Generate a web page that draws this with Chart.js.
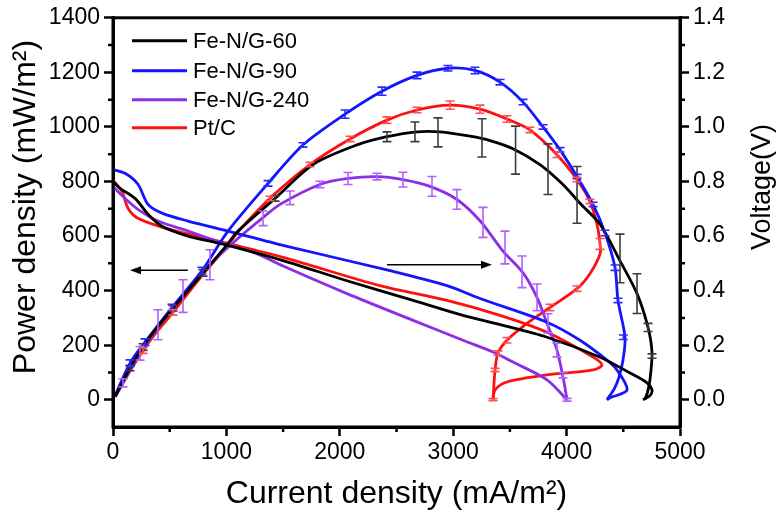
<!DOCTYPE html>
<html>
<head>
<meta charset="utf-8">
<script src="https://cdn.jsdelivr.net/npm/chart.js@4.4.1/dist/chart.umd.min.js"></script>
<style>
  html, body { margin: 0; padding: 0; background: #fff; }
  #wrap { width: 782px; height: 513px; }
</style>
</head>
<body>
<div id="wrap"><canvas id="c" width="782" height="513"></canvas></div>
<script>
// series names / colours
const names = ['Fe-N/G-60', 'Fe-N/G-90', 'Fe-N/G-240', 'Pt/C'];
const colors = ['#000000', '#1414ff', '#8c2ee6', '#ff1010'];
const errColors = ['#3c3c3c', '#2a2aff', '#b060ff', '#ff5050'];

// axis ticks
const xTicks = [0, 1000, 2000, 3000, 4000, 5000];
const xMinor = [500, 1500, 2500, 3500, 4500];
const powerTicks = [0, 200, 400, 600, 800, 1000, 1200, 1400];
const powerMinor = [100, 300, 500, 700, 900, 1100, 1300];
const voltTicks = [0, 0.2, 0.4, 0.6, 0.8, 1.0, 1.2, 1.4];
const voltMinor = [0.1, 0.3, 0.5, 0.7, 0.9, 1.1, 1.3];

// Fe-N/G-60 (black)
const blackPowX = [20, 150, 265, 370, 529, 794, 1000, 1102, 1429, 1764, 2152, 2416, 2681, 2884, 3148, 3325, 3527, 3765, 3968, 4118, 4295, 4471, 4621, 4718, 4753, 4735, 4715, 4690];
const blackPowY = [12, 116, 193, 255, 335, 465, 565, 618, 738, 862, 934, 964, 982, 982, 966, 950, 920, 862, 789, 720, 643, 509, 389, 265, 171, 73, 30, 0];
const blackVolX = [0, 62, 194, 309, 432, 661, 961, 1500, 2063, 2646, 3086, 3413, 3827, 4295, 4559, 4709, 4753, 4735, 4674];
const blackVolY = [0.80, 0.775, 0.738, 0.68, 0.636, 0.60, 0.571, 0.51, 0.436, 0.364, 0.309, 0.275, 0.229, 0.156, 0.098, 0.062, 0.036, 0.015, 0.0];

// Fe-N/G-90 (blue)
const bluePowX = [18, 150, 282, 520, 785, 1014, 1367, 1675, 2046, 2372, 2681, 2954, 3192, 3413, 3616, 3792, 3942, 4092, 4233, 4339, 4427, 4453, 4515, 4497, 4460, 4420, 4356];
const bluePowY = [15, 134, 211, 338, 473, 618, 793, 934, 1047, 1131, 1189, 1215, 1207, 1164, 1091, 1000, 916, 818, 716, 611, 484, 364, 229, 145, 80, 40, 0];
const blueVolX = [0, 106, 220, 309, 432, 661, 1014, 1517, 2443, 2945, 3236, 3827, 4118, 4356, 4444, 4533, 4383, 4356];
const blueVolY = [0.844, 0.83, 0.79, 0.716, 0.684, 0.655, 0.618, 0.564, 0.473, 0.418, 0.371, 0.284, 0.218, 0.145, 0.109, 0.036, 0.007, 0.0];

// Fe-N/G-240 (purple)
const purplePowX = [20, 88, 238, 414, 617, 855, 1076, 1314, 1473, 1825, 2072, 2328, 2557, 2795, 3033, 3236, 3439, 3616, 3739, 3827, 3915, 3968, 4004];
const purplePowY = [12, 62, 170, 275, 380, 495, 582, 665, 716, 789, 811, 818, 807, 782, 734, 656, 545, 465, 375, 280, 182, 84, 0];
const purpleVolX = [0, 106, 220, 397, 661, 961, 1252, 1500, 2063, 2646, 3086, 3351, 3527, 3827, 4004];
const purpleVolY = [0.782, 0.738, 0.698, 0.655, 0.618, 0.575, 0.538, 0.49, 0.389, 0.291, 0.218, 0.175, 0.138, 0.073, 0.0];

// Pt/C (red)
const redPowX = [18, 150, 265, 370, 529, 785, 1000, 1102, 1384, 1737, 2090, 2416, 2681, 2972, 3236, 3474, 3677, 3915, 4092, 4206, 4268, 4295, 4295, 4206, 4092, 3853, 3651, 3474, 3395, 3369, 3351];
const redPowY = [10, 105, 180, 240, 320, 455, 560, 615, 738, 862, 956, 1025, 1062, 1080, 1065, 1029, 989, 898, 807, 727, 643, 571, 534, 462, 407, 338, 280, 218, 171, 109, 0];
const redVolX = [0, 79, 132, 220, 459, 811, 1102, 1517, 2354, 2945, 3413, 3827, 4233, 4312, 4233, 3827, 3474, 3369, 3351];
const redVolY = [0.804, 0.764, 0.702, 0.665, 0.629, 0.593, 0.564, 0.52, 0.418, 0.364, 0.309, 0.247, 0.156, 0.127, 0.109, 0.091, 0.065, 0.036, 0.0];

// error bars on power curves: [x, y, +/-]
const blackErr = [[150,116,10],[265,193,12],[529,335,10],[794,465,12],[1429,738,10],[2416,964,18],[2663,982,36],[2866,980,53],[3254,960,70],[3550,915,88],[3836,845,93],[4092,751,104],[4471,518,89],[4621,389,73],[4718,265,15],[4753,160,8]];
const blueErr = [[150,134,12],[282,211,12],[520,338,12],[785,473,12],[1367,793,10],[1675,934,8],[2046,1047,15],[2372,1131,15],[2681,1189,12],[2954,1215,10],[3192,1207,12],[3413,1164,10],[3616,1091,10],[3792,1000,8],[3942,916,8],[4092,818,8],[4233,716,8],[4339,611,10],[4427,484,10],[4453,364,8],[4500,229,8]];
const purpleErr = [[88,62,15],[238,170,25],[397,275,55],[617,380,60],[855,495,55],[1323,665,27],[1561,740,25],[1825,789,12],[2072,811,22],[2328,818,12],[2557,807,27],[2813,782,36],[3033,734,36],[3263,650,55],[3457,558,60],[3607,469,58],[3739,375,49],[3836,280,35],[3915,182,25],[3968,90,10],[4004,0,5]];
const redErr = [[265,180,10],[529,320,10],[1384,738,8],[1737,862,8],[2090,956,10],[2416,1025,12],[2681,1062,10],[2972,1080,15],[3236,1065,15],[3474,1029,12],[3677,989,10],[3915,898,10],[4092,807,8],[4206,727,8],[4295,571,20],[4092,407,10],[3853,338,12],[3474,218,10],[3395,171,8],[3369,109,6],[3351,0,4]];

// arrows in data units: [x0, x1, y] on the power axis
const arrows = [[660, 150, 475], [2416, 3342, 495]];

const FONT = '"Liberation Sans", Arial, sans-serif';

function pts(xs, ys){ return xs.map((x, i) => ({ x: x, y: ys[i] })); }

const powSets = [pts(blackPowX, blackPowY), pts(bluePowX, bluePowY), pts(purplePowX, purplePowY), pts(redPowX, redPowY)];
const volSets = [pts(blackVolX, blackVolY), pts(blueVolX, blueVolY), pts(purpleVolX, purpleVolY), pts(redVolX, redVolY)];
const errSets = [blackErr, blueErr, purpleErr, redErr];

const datasets = [];
names.forEach((n, i) => {
  datasets.push({ label: n, data: powSets[i], yAxisID: 'y', borderColor: colors[i], borderWidth: 2.8, showLine: true, pointRadius: 0, tension: 0.3, fill: false });
  datasets.push({ label: n + ' V', data: volSets[i], yAxisID: 'y2', borderColor: colors[i], borderWidth: 2.8, showLine: true, pointRadius: 0, tension: 0.3, fill: false });
});

const extras = {
  id: 'extras',
  afterDatasetsDraw(chart){
    const ctx = chart.ctx, a = chart.chartArea;
    const sx = chart.scales.x, sp = chart.scales.y;
    ctx.save();
    ctx.beginPath();
    ctx.rect(a.left, a.top, a.right - a.left, a.bottom - a.top);
    ctx.clip();
    errSets.forEach((set, i) => {
      ctx.strokeStyle = errColors[i];
      ctx.lineWidth = 1.6;
      set.forEach(([x, y, e]) => {
        const px = sx.getPixelForValue(x);
        const t = sp.getPixelForValue(y + e), b = sp.getPixelForValue(y - e);
        ctx.beginPath();
        ctx.moveTo(px, t); ctx.lineTo(px, b);
        ctx.moveTo(px - 4.5, t); ctx.lineTo(px + 4.5, t);
        ctx.moveTo(px - 4.5, b); ctx.lineTo(px + 4.5, b);
        ctx.stroke();
      });
    });
    // arrows
    ctx.strokeStyle = '#000'; ctx.fillStyle = '#000'; ctx.lineWidth = 1.5;
    arrows.forEach(([x0, x1, y]) => {
      const p0 = sx.getPixelForValue(x0), p1 = sx.getPixelForValue(x1), py = sp.getPixelForValue(y);
      const dir = p1 > p0 ? 1 : -1;
      ctx.beginPath(); ctx.moveTo(p0, py); ctx.lineTo(p1 - dir * 8, py); ctx.stroke();
      ctx.beginPath();
      ctx.moveTo(p1, py); ctx.lineTo(p1 - dir * 11, py - 4); ctx.lineTo(p1 - dir * 11, py + 4);
      ctx.closePath(); ctx.fill();
    });
    ctx.restore();
  },
  afterDraw(chart){
    const ctx = chart.ctx, a = chart.chartArea;
    const sx = chart.scales.x, sp = chart.scales.y, sv = chart.scales.y2;
    ctx.save();
    // frame
    ctx.strokeStyle = '#000'; ctx.lineWidth = 3;
    ctx.strokeRect(a.left, a.top, a.right - a.left, a.bottom - a.top);
    // minor ticks
    ctx.lineWidth = 2.5;
    ctx.beginPath();
    xMinor.forEach(v => { const p = sx.getPixelForValue(v); ctx.moveTo(p, a.bottom); ctx.lineTo(p, a.bottom + 5); });
    powerMinor.forEach(v => { const p = sp.getPixelForValue(v); ctx.moveTo(a.left, p); ctx.lineTo(a.left - 5, p); });
    voltMinor.forEach(v => { const p = sv.getPixelForValue(v); ctx.moveTo(a.right, p); ctx.lineTo(a.right + 5, p); });
    ctx.stroke();
    // legend
    ctx.font = '22px ' + FONT;
    ctx.textBaseline = 'middle';
    ctx.textAlign = 'left';
    const rows = [23, 53, 82, 110];
    names.forEach((n, i) => {
      const y = a.top + rows[i];
      ctx.strokeStyle = colors[i]; ctx.lineWidth = 3;
      ctx.beginPath(); ctx.moveTo(a.left + 19, y); ctx.lineTo(a.left + 74, y); ctx.stroke();
      ctx.fillStyle = '#000';
      ctx.fillText(n, a.left + 80, y + 1);
    });
    // axis titles
    ctx.fillStyle = '#000';
    ctx.textBaseline = 'alphabetic';
    ctx.textAlign = 'center';
    ctx.font = '32px ' + FONT;
    ctx.fillText('Current density (mA/m\u00B2)', (a.left + a.right) / 2, 503);
    ctx.save();
    ctx.translate(35, 207); ctx.rotate(-Math.PI / 2);
    ctx.fillText('Power density (mW/m\u00B2)', 0, 0);
    ctx.restore();
    ctx.save();
    ctx.font = '27px ' + FONT;
    ctx.translate(770, 187); ctx.rotate(-Math.PI / 2);
    ctx.fillText('Voltage(V)', 0, 0);
    ctx.restore();
    ctx.restore();
  }
};

function fixed(list){ return scale => { scale.ticks = list.map(v => ({ value: v })); }; }

const tickFont = { family: FONT, size: 23 };
const gridOpts = { display: true, drawOnChartArea: false, drawTicks: true, tickLength: 9, tickWidth: 2.5, tickColor: '#000' };
const borderOpts = { display: true, color: '#000', width: 3 };

new Chart(document.getElementById('c').getContext('2d'), {
  type: 'scatter',
  data: { datasets: datasets },
  options: {
    responsive: false,
    animation: false,
    devicePixelRatio: 1,
    layout: { padding: { top: 15, left: 0, right: 0, bottom: 0 } },
    plugins: { legend: { display: false }, tooltip: { enabled: false } },
    scales: {
      x: {
        type: 'linear', position: 'bottom', min: 0, max: 5000,
        afterBuildTicks: fixed(xTicks),
        afterFit: s => { s.height = 86; },
        ticks: { color: '#000', font: tickFont, padding: 3, maxRotation: 0, callback: v => String(v) },
        grid: gridOpts, border: borderOpts
      },
      y: {
        type: 'linear', position: 'left', min: -100, max: 1400,
        afterBuildTicks: fixed(powerTicks),
        afterFit: s => { s.width = 113; },
        ticks: { color: '#000', font: tickFont, padding: 4, callback: v => String(v) },
        grid: gridOpts, border: borderOpts
      },
      y2: {
        type: 'linear', position: 'right', min: -0.1, max: 1.4,
        afterBuildTicks: fixed(voltTicks),
        afterFit: s => { s.width = 102; },
        ticks: { color: '#000', font: tickFont, padding: 4, callback: v => Number(v).toFixed(1) },
        grid: gridOpts, border: borderOpts
      }
    }
  },
  plugins: [extras]
});
</script>
</body>
</html>
